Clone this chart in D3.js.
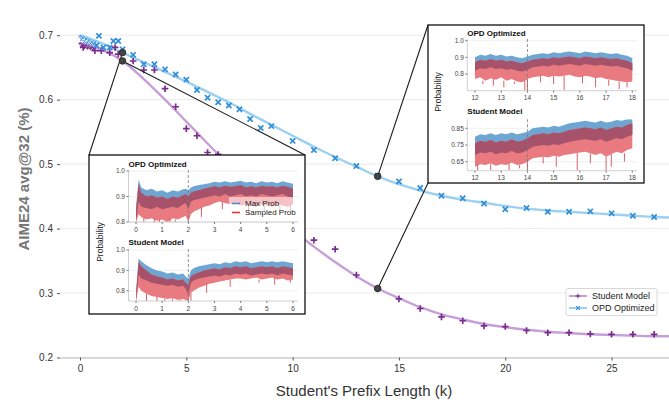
<!DOCTYPE html>
<html>
<head>
<meta charset="utf-8">
<script src="https://cdn.jsdelivr.net/npm/d3@7"></script>
<style>
body { margin: 0; background: #fff; }
text { font-family: "Liberation Sans", Arial, sans-serif; }
</style>
</head>
<body>
<div id="grafica"></div>
<script>
// ---- main chart data ----
var xTicks = [0, 5, 10, 15, 20, 25];
var yTicks = [0.2, 0.3, 0.4, 0.5, 0.6, 0.7];

var kStu = [0.15, 0.7, 1.0, 1.4, 1.65, 1.8, 2.5, 3, 3.5, 4, 4.5, 5, 5.5, 6, 6.5, 7, 7.5, 8, 8.5, 9,
  10, 11, 12, 13, 14, 15, 16, 17, 18, 19, 20, 21, 22, 23, 24, 25, 26, 27];
var stuVals = [0.681, 0.676, 0.676, 0.673, 0.681, 0.6705, 0.660, 0.646, 0.646, 0.617, 0.589, 0.555, 0.544, 0.518, 0.515, 0.50, 0.49, 0.47, 0.455, 0.44,
  0.40, 0.382, 0.368, 0.328, 0.307, 0.291, 0.276, 0.263, 0.257, 0.249, 0.248, 0.242, 0.2385, 0.2385, 0.2365, 0.236, 0.236, 0.236];

var kOpd = [0.78, 0.89, 1.1, 1.4, 1.57, 1.8, 2.0, 2.5, 3, 3.5, 4, 4.5, 5, 5.5, 6, 6.5, 7, 7.5, 8, 8.5, 9,
  10, 11, 12, 13, 14, 15, 16, 17, 18, 19, 20, 21, 22, 23, 24, 25, 26, 27];
var opdVals = [0.684, 0.699, 0.681, 0.681, 0.691, 0.691, 0.678, 0.6695, 0.655, 0.655, 0.647, 0.639, 0.631, 0.615, 0.603, 0.596, 0.591, 0.585, 0.570, 0.556, 0.559,
  0.536, 0.522, 0.509, 0.497, 0.482, 0.473, 0.463, 0.451, 0.447, 0.439, 0.430, 0.432, 0.426, 0.426, 0.4267, 0.4236, 0.420, 0.418];

// dense tiny markers at the very start
var kDense = [0, 0.07, 0.14, 0.21, 0.28, 0.35, 0.42, 0.49, 0.56, 0.63, 0.7];
var opdDense = [0.698, 0.693, 0.696, 0.690, 0.694, 0.688, 0.692, 0.687, 0.690, 0.686, 0.689];
var stuDense = [0.687, 0.683, 0.685, 0.681, 0.684, 0.680, 0.682, 0.679, 0.681, 0.678, 0.680];

// fitted curves
var kFit = [0, 1, 2, 3, 4, 5, 6, 7, 8, 9, 10, 11, 12, 13, 14, 15, 16, 17, 18, 19, 20, 21, 22, 23, 24, 25, 26, 27, 28];
var stuFit = [0.688, 0.678, 0.660, 0.632, 0.600, 0.566, 0.532, 0.498, 0.463, 0.430, 0.398, 0.372, 0.348, 0.326, 0.307,
  0.292, 0.278, 0.267, 0.259, 0.252, 0.247, 0.243, 0.240, 0.238, 0.236, 0.235, 0.234, 0.233, 0.233];
var opdFit = [0.700, 0.688, 0.673, 0.658, 0.643, 0.628, 0.612, 0.596, 0.578, 0.561, 0.544, 0.527, 0.511, 0.496, 0.481,
  0.469, 0.459, 0.451, 0.445, 0.440, 0.435, 0.431, 0.428, 0.426, 0.424, 0.422, 0.420, 0.418, 0.417];

// ---- inset data: envelopes of the noisy probability traces ----
var kLeft = [0, 0.1, 0.2, 0.4, 0.6, 0.8, 1.0, 1.2, 1.4, 1.6, 1.8, 1.9, 2.0, 2.1, 2.2, 2.4, 2.6, 2.8, 3.0,
  3.2, 3.4, 3.6, 3.8, 4.0, 4.2, 4.4, 4.6, 4.8, 5.0, 5.2, 5.4, 5.6, 5.8, 6.0];
var lOpdBlueHi = [0.86, 0.967, 0.935, 0.925, 0.93, 0.92, 0.925, 0.915, 0.925, 0.92, 0.928, 0.93, 0.925, 0.935, 0.94, 0.945, 0.948, 0.952, 0.958,
  0.955, 0.96, 0.955, 0.958, 0.962, 0.955, 0.958, 0.952, 0.96, 0.955, 0.958, 0.952, 0.96, 0.955, 0.95];
var lOpdRedHi = [0.84, 0.95, 0.915, 0.90, 0.905, 0.895, 0.90, 0.89, 0.90, 0.895, 0.905, 0.91, 0.90, 0.915, 0.92, 0.925, 0.93, 0.935, 0.94,
  0.935, 0.942, 0.938, 0.94, 0.945, 0.935, 0.94, 0.935, 0.942, 0.938, 0.94, 0.935, 0.942, 0.938, 0.93];
var lOpdBlueLo = [0.80, 0.88, 0.86, 0.855, 0.85, 0.86, 0.85, 0.855, 0.86, 0.855, 0.87, 0.875, 0.85, 0.88, 0.885, 0.89, 0.895, 0.90, 0.905,
  0.90, 0.91, 0.90, 0.905, 0.91, 0.90, 0.905, 0.90, 0.91, 0.905, 0.90, 0.905, 0.91, 0.90, 0.895];
var lOpdRedLo = [0.80, 0.83, 0.82, 0.81, 0.815, 0.805, 0.81, 0.80, 0.815, 0.81, 0.82, 0.825, 0.80, 0.83, 0.84, 0.85, 0.86, 0.865, 0.875,
  0.88, 0.875, 0.87, 0.875, 0.865, 0.87, 0.865, 0.86, 0.87, 0.865, 0.86, 0.87, 0.865, 0.86, 0.87];
var lOpdSpikes = [[0.3, 0.8], [0.7, 0.8], [0.9, 0.8], [1.3, 0.8], [1.5, 0.8], [2.0, 0.8], [2.5, 0.82], [3.3, 0.85],
  [4.3, 0.83], [4.9, 0.845], [5.5, 0.84], [5.9, 0.845]];

var lStuBlueHi = [0.80, 0.958, 0.945, 0.925, 0.91, 0.90, 0.895, 0.885, 0.89, 0.88, 0.885, 0.87, 0.86, 0.90, 0.91, 0.92, 0.925, 0.93, 0.935,
  0.93, 0.94, 0.935, 0.945, 0.94, 0.945, 0.935, 0.94, 0.945, 0.94, 0.945, 0.94, 0.945, 0.94, 0.935];
var lStuRedHi = [0.78, 0.94, 0.92, 0.90, 0.88, 0.87, 0.865, 0.855, 0.86, 0.85, 0.855, 0.84, 0.83, 0.87, 0.88, 0.89, 0.90, 0.905, 0.91,
  0.905, 0.915, 0.91, 0.92, 0.915, 0.92, 0.91, 0.915, 0.92, 0.915, 0.92, 0.91, 0.92, 0.915, 0.91];
var lStuBlueLo = [0.75, 0.88, 0.86, 0.85, 0.84, 0.835, 0.83, 0.825, 0.83, 0.82, 0.825, 0.81, 0.78, 0.84, 0.85, 0.86, 0.865, 0.87, 0.875,
  0.87, 0.88, 0.875, 0.885, 0.88, 0.885, 0.875, 0.88, 0.885, 0.88, 0.885, 0.875, 0.885, 0.88, 0.875];
var lStuRedLo = [0.75, 0.82, 0.80, 0.785, 0.775, 0.77, 0.765, 0.76, 0.765, 0.755, 0.76, 0.755, 0.75, 0.79, 0.80, 0.815, 0.825, 0.835, 0.84,
  0.845, 0.85, 0.855, 0.86, 0.86, 0.855, 0.86, 0.865, 0.855, 0.86, 0.865, 0.855, 0.86, 0.85, 0.855];
var lStuSpikes = [[0.4, 0.75], [0.8, 0.75], [1.1, 0.75], [1.4, 0.75], [1.7, 0.75], [2.0, 0.75], [2.1, 0.75],
  [2.7, 0.79], [3.6, 0.82], [4.7, 0.84], [5.3, 0.83], [5.9, 0.84]];

var kRight = [12.0, 12.2, 12.4, 12.6, 12.8, 13.0, 13.2, 13.4, 13.6, 13.8, 14.0, 14.2, 14.4, 14.6, 14.8, 15.0,
  15.2, 15.4, 15.6, 15.8, 16.0, 16.2, 16.4, 16.6, 16.8, 17.0, 17.2, 17.4, 17.6, 17.8, 18.0];
var rOpdBlueHi = [0.90, 0.915, 0.91, 0.92, 0.91, 0.915, 0.905, 0.91, 0.90, 0.895, 0.905, 0.915, 0.92, 0.925, 0.92, 0.93,
  0.925, 0.93, 0.935, 0.93, 0.925, 0.935, 0.93, 0.925, 0.93, 0.925, 0.92, 0.925, 0.915, 0.91, 0.895];
var rOpdRedHi = [0.87, 0.885, 0.88, 0.89, 0.88, 0.885, 0.875, 0.88, 0.87, 0.865, 0.875, 0.885, 0.89, 0.895, 0.89, 0.90,
  0.895, 0.90, 0.905, 0.90, 0.895, 0.905, 0.90, 0.895, 0.90, 0.895, 0.89, 0.895, 0.885, 0.88, 0.865];
var rOpdBlueLo = [0.82, 0.835, 0.83, 0.84, 0.83, 0.835, 0.825, 0.83, 0.82, 0.815, 0.825, 0.84, 0.845, 0.85, 0.845, 0.855,
  0.85, 0.855, 0.86, 0.855, 0.85, 0.86, 0.855, 0.85, 0.855, 0.85, 0.845, 0.85, 0.84, 0.835, 0.82];
var rOpdRedLo = [0.77, 0.78, 0.76, 0.775, 0.765, 0.78, 0.76, 0.77, 0.755, 0.75, 0.77, 0.78, 0.785, 0.79, 0.78, 0.79,
  0.785, 0.79, 0.795, 0.785, 0.78, 0.79, 0.785, 0.775, 0.78, 0.77, 0.765, 0.76, 0.755, 0.75, 0.755];
var rOpdSpikes = [[12.3, 0.74], [12.7, 0.73], [13.1, 0.72], [13.5, 0.74], [13.9, 0.70], [14.0, 0.70], [14.5, 0.75],
  [15.0, 0.74], [15.4, 0.705], [16.1, 0.745], [16.6, 0.72], [17.1, 0.73], [17.5, 0.71], [17.8, 0.72]];

var rStuBlueHi = [0.80, 0.815, 0.81, 0.82, 0.81, 0.82, 0.815, 0.825, 0.815, 0.82, 0.83, 0.85, 0.855, 0.86, 0.855, 0.865,
  0.86, 0.87, 0.88, 0.885, 0.89, 0.895, 0.89, 0.885, 0.895, 0.885, 0.89, 0.90, 0.895, 0.904, 0.904];
var rStuRedHi = [0.76, 0.775, 0.77, 0.78, 0.765, 0.775, 0.77, 0.785, 0.77, 0.775, 0.79, 0.81, 0.815, 0.82, 0.815, 0.825,
  0.82, 0.83, 0.84, 0.845, 0.85, 0.855, 0.85, 0.845, 0.855, 0.84, 0.85, 0.86, 0.855, 0.87, 0.88];
var rStuBlueLo = [0.69, 0.705, 0.70, 0.71, 0.695, 0.705, 0.70, 0.715, 0.70, 0.705, 0.72, 0.74, 0.745, 0.75, 0.745, 0.755,
  0.75, 0.76, 0.77, 0.775, 0.78, 0.785, 0.78, 0.775, 0.785, 0.77, 0.78, 0.79, 0.785, 0.80, 0.81];
var rStuRedLo = [0.62, 0.635, 0.63, 0.64, 0.625, 0.635, 0.63, 0.645, 0.63, 0.635, 0.65, 0.67, 0.675, 0.68, 0.675, 0.685,
  0.68, 0.69, 0.695, 0.70, 0.705, 0.71, 0.70, 0.69, 0.70, 0.68, 0.695, 0.71, 0.70, 0.72, 0.73];
var rStuSpikes = [[12.1, 0.60], [12.6, 0.60], [13.3, 0.60], [13.7, 0.61], [14.0, 0.60], [14.6, 0.64], [15.1, 0.62],
  [15.9, 0.60], [16.4, 0.64], [17.0, 0.60], [17.2, 0.62], [17.7, 0.65]];

// ---- colours ----
var purple = "#7b2d8e", purpleLine = "#c79ed8";
var blue = "#2f8ed8", blueLine = "#9bd0f0";
var bandBlue = "#6ea6d3", bandRed = "#e97a7f", bandMix = "#a5526a";

var W = 669, H = 400;
var svg = d3.select("#grafica")
  .append("svg")
    .attr("width", W)
    .attr("height", H);

var x = d3.scaleLinear().domain([-0.94, 27.7]).range([60, 669]);
var y = d3.scaleLinear().domain([0.2, 0.72]).range([357.5, 22.3]);

svg.append("defs").append("clipPath")
    .attr("id", "clipMain")
  .append("rect")
    .attr("x", 60).attr("y", 22).attr("width", 609).attr("height", 336);

// gridlines
svg.append("g").selectAll("line")
  .data(yTicks).enter().append("line")
    .attr("x1", 60).attr("x2", 669)
    .attr("y1", function(d) { return y(d); })
    .attr("y2", function(d) { return y(d); })
    .attr("stroke", "#ebebeb")
    .attr("stroke-width", 1);

// x axis
var xAxis = svg.append("g")
  .attr("transform", "translate(0," + y(0.2) + ")")
  .call(d3.axisBottom(x).tickValues(xTicks).tickSize(3).tickPadding(4).tickFormat(d3.format("d")));
xAxis.select(".domain").attr("stroke", "#bdbdbd").attr("d", "M60,0.5H669");
xAxis.selectAll(".tick line").attr("stroke", "#555");
xAxis.selectAll(".tick text").attr("fill", "#333").style("font-size", "10px");

// y axis
var yAxis = svg.append("g")
  .attr("transform", "translate(60,0)")
  .call(d3.axisLeft(y).tickValues(yTicks).tickSize(3).tickPadding(4).tickFormat(d3.format(".1f")));
yAxis.select(".domain").remove();
yAxis.selectAll(".tick line").attr("stroke", "#555");
yAxis.selectAll(".tick text").attr("fill", "#333").style("font-size", "10px");

svg.append("text")
  .attr("x", 364).attr("y", 396)
  .attr("text-anchor", "middle")
  .style("font-size", "15px")
  .attr("fill", "#333")
  .text("Student's Prefix Length (k)");

svg.append("text")
  .attr("transform", "translate(29,179) rotate(-90)")
  .attr("text-anchor", "middle")
  .style("font-size", "15px")
  .style("font-weight", "bold")
  .attr("fill", "#777")
  .text("AIME24 avg@32 (%)");

// fitted lines
var fitLine = function(vals) {
  return d3.line()
    .x(function(d, i) { return x(kFit[i]); })
    .y(function(d) { return y(d); })
    .curve(d3.curveMonotoneX)(vals);
};
var lines = svg.append("g").attr("clip-path", "url(#clipMain)");
lines.append("path").attr("d", fitLine(stuFit))
  .attr("fill", "none").attr("stroke", purpleLine).attr("stroke-width", 2.4);
lines.append("path").attr("d", fitLine(opdFit))
  .attr("fill", "none").attr("stroke", blueLine).attr("stroke-width", 2.4);

// markers
function plusPath(cx, cy, s) {
  return "M" + (cx - s) + "," + cy + "H" + (cx + s) + "M" + cx + "," + (cy - s) + "V" + (cy + s);
}
function timesPath(cx, cy, s) {
  return "M" + (cx - s) + "," + (cy - s) + "L" + (cx + s) + "," + (cy + s) +
         "M" + (cx - s) + "," + (cy + s) + "L" + (cx + s) + "," + (cy - s);
}
var marks = svg.append("g").attr("clip-path", "url(#clipMain)");
marks.selectAll(".dstu").data(stuDense).enter().append("path")
  .attr("d", function(d, i) { return plusPath(x(kDense[i]), y(d), 1.6); })
  .attr("stroke", purple).attr("stroke-width", 1).attr("fill", "none");
marks.selectAll(".dopd").data(opdDense).enter().append("path")
  .attr("d", function(d, i) { return timesPath(x(kDense[i]), y(d), 1.4); })
  .attr("stroke", blue).attr("stroke-width", 1).attr("fill", "none");
marks.selectAll(".stu").data(stuVals).enter().append("path")
  .attr("d", function(d, i) { return plusPath(x(kStu[i]), y(d), 3.3); })
  .attr("stroke", purple).attr("stroke-width", 1.7).attr("fill", "none");
marks.selectAll(".opd").data(opdVals).enter().append("path")
  .attr("d", function(d, i) { return timesPath(x(kOpd[i]), y(d), 2.6); })
  .attr("stroke", blue).attr("stroke-width", 1.7).attr("fill", "none");

// zoom connectors
var leftBox = {x0: 89, y0: 155, x1: 305, y1: 314};
var rightBox = {x0: 428, y0: 25, x1: 644, y1: 183};
var conn = svg.append("g").attr("stroke", "#1a1a1a").attr("stroke-width", 1.1);
conn.append("line").attr("x1", x(2)).attr("y1", y(opdFit[2])).attr("x2", leftBox.x0).attr("y2", leftBox.y0);
conn.append("line").attr("x1", x(2)).attr("y1", y(stuFit[2])).attr("x2", leftBox.x1).attr("y2", leftBox.y0);
conn.append("line").attr("x1", x(14)).attr("y1", y(opdFit[14])).attr("x2", rightBox.x0).attr("y2", rightBox.y0);
conn.append("line").attr("x1", x(14)).attr("y1", y(stuFit[14])).attr("x2", rightBox.x0).attr("y2", rightBox.y1);

svg.selectAll(".zpt").data([[2, opdFit[2]], [2, stuFit[2]], [14, opdFit[14]], [14, stuFit[14]]])
  .enter().append("circle")
    .attr("cx", function(d) { return x(d[0]); })
    .attr("cy", function(d) { return y(d[1]); })
    .attr("r", 3.3)
    .attr("fill", "#444").attr("stroke", "#222").attr("stroke-width", 0.8);

// ---- insets ----
var clipId = 0;
function drawPanel(g, p) {
  var px = d3.scaleLinear().domain(p.xDomain).range(p.xRange);
  var py = d3.scaleLinear().domain(p.yDomain).range(p.yRange);
  var left = p.frame[0], right = p.frame[1], top = p.frame[2], bottom = p.yRange[0];

  g.selectAll(null).data(p.yTicks).enter().append("line")
    .attr("x1", left).attr("x2", right)
    .attr("y1", function(d) { return py(d); }).attr("y2", function(d) { return py(d); })
    .attr("stroke", "#ececec").attr("stroke-width", 0.8);

  clipId++;
  g.append("clipPath").attr("id", "pc" + clipId)
    .append("rect").attr("x", left).attr("y", top).attr("width", right - left).attr("height", bottom - top);
  var band = g.append("g").attr("clip-path", "url(#pc" + clipId + ")");
  var area = function(lo, hi) {
    return d3.area()
      .x(function(d, i) { return px(p.k[i]); })
      .y0(function(d, i) { return py(lo[i]); })
      .y1(function(d, i) { return py(hi[i]); })(p.k);
  };
  band.append("path").attr("d", area(p.blueLo, p.blueHi)).attr("fill", bandBlue);
  band.append("path").attr("d", area(p.redLo, p.redHi)).attr("fill", bandRed);
  band.append("path").attr("d", area(p.blueLo, p.redHi)).attr("fill", bandMix);
  band.selectAll(null).data(p.spikes).enter().append("line")
    .attr("x1", function(d) { return px(d[0]); }).attr("x2", function(d) { return px(d[0]); })
    .attr("y1", function(d) { return py(d[1]); })
    .attr("y2", function(d) { return py(p.redLo[d3.bisectCenter(p.k, d[0])]); })
    .attr("stroke", "#d8606a").attr("stroke-width", 1);

  // dashed cut position
  g.append("line")
    .attr("x1", px(p.cut)).attr("x2", px(p.cut))
    .attr("y1", top).attr("y2", bottom)
    .attr("stroke", "#777").attr("stroke-width", 0.8).attr("stroke-dasharray", "3,2");

  // axes
  g.append("line").attr("x1", left).attr("x2", left).attr("y1", top).attr("y2", bottom)
    .attr("stroke", "#c4c4c4").attr("stroke-width", 0.8);
  g.append("line").attr("x1", left).attr("x2", right).attr("y1", bottom).attr("y2", bottom)
    .attr("stroke", "#c4c4c4").attr("stroke-width", 0.8);

  var xt = d3.range(p.xDomain[0], p.xDomain[1] + 1);
  g.selectAll(null).data(xt).enter().append("line")
    .attr("x1", function(d) { return px(d); }).attr("x2", function(d) { return px(d); })
    .attr("y1", bottom).attr("y2", bottom + 2)
    .attr("stroke", "#444").attr("stroke-width", 0.7);
  g.selectAll(null).data(xt).enter().append("text")
    .attr("x", function(d) { return px(d); }).attr("y", bottom + 9.5)
    .attr("text-anchor", "middle").style("font-size", "6.5px").attr("fill", "#444")
    .text(function(d) { return d; });
  g.selectAll(null).data(p.yTicks).enter().append("line")
    .attr("x1", left - 2).attr("x2", left)
    .attr("y1", function(d) { return py(d); }).attr("y2", function(d) { return py(d); })
    .attr("stroke", "#444").attr("stroke-width", 0.7);
  g.selectAll(null).data(p.yTicks).enter().append("text")
    .attr("x", left - 3.5).attr("y", function(d) { return py(d) + 2.3; })
    .attr("text-anchor", "end").style("font-size", "6.5px").attr("fill", "#444")
    .text(function(d) { return d3.format(p.fmt)(d); });

  g.append("text")
    .attr("x", left).attr("y", p.titleY)
    .style("font-size", "8px").style("font-weight", "bold").attr("fill", "#111")
    .text(p.title);
}

function drawInset(box, panels, ylab) {
  var g = svg.append("g");
  g.append("rect")
    .attr("x", box.x0).attr("y", box.y0)
    .attr("width", box.x1 - box.x0).attr("height", box.y1 - box.y0)
    .attr("fill", "#fff").attr("stroke", "#111").attr("stroke-width", 1.3);
  panels.forEach(function(p) { drawPanel(g, p); });
  g.append("text")
    .attr("transform", "translate(" + ylab[0] + "," + ylab[1] + ") rotate(-90)")
    .attr("text-anchor", "middle")
    .style("font-size", "8.5px").attr("fill", "#222")
    .text("Probability");
  return g;
}

var leftInset = drawInset(leftBox, [
  {title: "OPD Optimized", titleY: 167, k: kLeft, xDomain: [0, 6], xRange: [136, 293],
   yDomain: [0.8, 1.0], yRange: [222, 171], frame: [128.5, 298, 170], yTicks: [0.8, 0.9, 1.0], fmt: ".1f",
   blueHi: lOpdBlueHi, redHi: lOpdRedHi, blueLo: lOpdBlueLo, redLo: lOpdRedLo, spikes: lOpdSpikes, cut: 2},
  {title: "Student Model", titleY: 245, k: kLeft, xDomain: [0, 6], xRange: [136, 293],
   yDomain: [0.75, 1.0], yRange: [301, 250], frame: [128.5, 298, 249], yTicks: [0.8, 0.9, 1.0], fmt: ".1f",
   blueHi: lStuBlueHi, redHi: lStuRedHi, blueLo: lStuBlueLo, redLo: lStuRedLo, spikes: lStuSpikes, cut: 2}
], [103, 242]);

var rightInset = drawInset(rightBox, [
  {title: "OPD Optimized", titleY: 36, k: kRight, xDomain: [12, 18], xRange: [475, 632.3],
   yDomain: [0.7, 1.0], yRange: [90.7, 40.7], frame: [467.3, 637, 39], yTicks: [0.8, 0.9, 1.0], fmt: ".1f",
   blueHi: rOpdBlueHi, redHi: rOpdRedHi, blueLo: rOpdBlueLo, redLo: rOpdRedLo, spikes: rOpdSpikes, cut: 14},
  {title: "Student Model", titleY: 114, k: kRight, xDomain: [12, 18], xRange: [475, 632.3],
   yDomain: [0.596, 0.904], yRange: [170.7, 119.3], frame: [467.3, 637, 119.3], yTicks: [0.65, 0.75, 0.85], fmt: ".2f",
   blueHi: rStuBlueHi, redHi: rStuRedHi, blueLo: rStuBlueLo, redLo: rStuRedLo, spikes: rStuSpikes, cut: 14}
], [441, 92]);

// legend inside left inset
var il = leftInset.append("g");
il.append("rect").attr("x", 229).attr("y", 197).attr("width", 70).attr("height", 20)
  .attr("fill", "#fff").attr("opacity", 0.55);
[["Max Prob", "#4a8fc8", 203.5], ["Sampled Prob", "#e8353d", 212.5]].forEach(function(e) {
  il.append("line").attr("x1", 232).attr("x2", 240).attr("y1", e[2]).attr("y2", e[2])
    .attr("stroke", e[1]).attr("stroke-width", 1.6);
  il.append("text").attr("x", 245).attr("y", e[2] + 2.8)
    .style("font-size", "8px").attr("fill", "#222").text(e[0]);
});

// main legend
var lg = svg.append("g");
lg.append("rect").attr("x", 566).attr("y", 288.5).attr("width", 91).attr("height", 27).attr("rx", 2)
  .attr("fill", "#fff").attr("stroke", "#cfcfcf").attr("stroke-width", 0.8);
[["Student Model", purpleLine, purple, "plus", 296], ["OPD Optimized", blueLine, blue, "times", 308]].forEach(function(e) {
  lg.append("line").attr("x1", 569).attr("x2", 587).attr("y1", e[4]).attr("y2", e[4])
    .attr("stroke", e[1]).attr("stroke-width", 2);
  lg.append("path")
    .attr("d", e[3] == "plus" ? plusPath(578, e[4], 2.3) : timesPath(578, e[4], 1.8))
    .attr("stroke", e[2]).attr("stroke-width", 1.1).attr("fill", "none");
  lg.append("text").attr("x", 592).attr("y", e[4] + 3.2)
    .style("font-size", "9px").attr("fill", "#222").text(e[0]);
});
</script>
</body>
</html>
